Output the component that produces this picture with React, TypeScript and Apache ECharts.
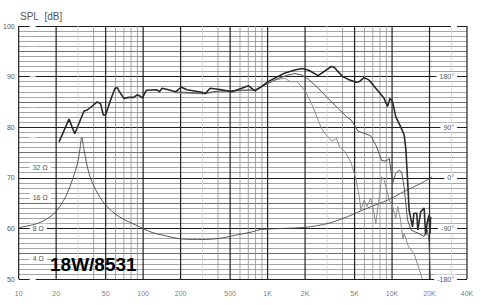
import React, { useEffect, useRef } from 'react';
import * as echarts from 'echarts';

// ---- tick labels ----
const X_TICKS = [10, 20, 50, 100, 200, 500, 1000, 2000, 5000, 10000, 20000, 40000];
const X_TICK_LABELS = ['10', '20', '50', '100', '200', '500', '1K', '2K', '5K', '10K', '20K', '40K'];
const IMPEDANCE_TICKS = [4, 8, 16, 32];
const PHASE_MAX_LABEL = 180;
const MODEL_NAME = '18W/8531';
const Y_TITLE = 'SPL\u00a0\u00a0[dB]';

// ---- series: [frequency Hz, SPL dB] ----
const SPL_ON_AXIS: [number, number][] = [
  [21.1, 77.1], [25.4, 81.6], [28.2, 78.7], [33.5, 83.2], [35.6, 83.4], [42.8, 85.0],
  [45.5, 84.6], [47.9, 82.4], [49.9, 82.4], [54.8, 85.4], [59.4, 87.7], [62, 87.8],
  [64.6, 87.0], [70, 85.7], [76.9, 85.9], [84.2, 85.9], [89.4, 86.4], [95, 86.1],
  [98.5, 85.8], [106, 87.3], [129, 87.4], [135, 87.0], [142, 87.7], [160, 87.4],
  [181, 87.0], [203, 87.9], [225, 87.4], [297, 86.9], [315, 86.6], [345, 87.7],
  [428, 87.4], [516, 87.0], [620, 87.7], [700, 88.2], [790, 87.2], [890, 88.0],
  [1010, 89.0], [1140, 89.7], [1380, 90.7], [1660, 91.3], [1880, 91.6], [2120, 91.3],
  [2550, 90.2], [3250, 92.0], [3440, 91.8], [4010, 90.0], [4400, 89.5], [5140, 88.9],
  [5450, 89.0], [5970, 89.8], [6550, 89.3], [7400, 87.7], [8630, 85.7], [9190, 84.1],
  [9630, 85.7], [10100, 85.0], [10700, 82.1], [11700, 80.1], [12500, 78.5], [12900, 75.7],
  [13300, 70.0], [13700, 63.6], [14600, 60.3], [15000, 63.0], [15800, 63.0], [16100, 59.7],
  [17000, 63.3], [18100, 64.0], [18600, 58.7], [19200, 61.3], [19800, 62.6], [20200, 59.0],
  [20400, 62.3],
];

const SPL_30DEG: [number, number][] = [
  [180, 87.0], [300, 86.7], [420, 87.2], [600, 87.3], [800, 87.4], [1000, 88.6],
  [1200, 89.6], [1460, 90.3], [1660, 90.6], [1880, 90.3], [2120, 89.5], [2550, 87.7],
  [3060, 85.7], [3690, 83.7], [4300, 82.1], [4700, 81.4], [5330, 79.2], [5970, 78.8],
  [6730, 78.3], [7400, 76.5], [8260, 73.4], [8940, 73.3], [9500, 73.8], [10100, 68.9],
  [10700, 70.9], [11400, 71.5], [11900, 71.2], [12500, 68.2], [13300, 61.7], [14200, 59.7],
  [15000, 59.4], [16400, 59.0], [18100, 58.4], [19200, 59.7], [19800, 57.5], [20300, 50.0],
];

const SPL_60DEG: [number, number][] = [
  [180, 86.8], [300, 86.6], [420, 87.0], [600, 87.2], [800, 87.3], [1000, 88.6],
  [1140, 89.3], [1380, 89.7], [1510, 89.0], [1720, 89.0], [1880, 88.0], [2050, 86.7],
  [2250, 84.7], [2550, 81.4], [2710, 79.8], [2880, 78.8], [3060, 78.1], [3250, 77.3],
  [3440, 77.5], [3570, 77.8], [3790, 76.1], [4170, 75.2], [4700, 72.9], [5140, 69.6],
  [5450, 66.3], [5620, 63.6], [5970, 65.6], [6270, 64.3], [6730, 66.0], [7170, 63.0],
  [7400, 61.0], [7900, 66.3], [8260, 70.2], [8630, 69.6], [9500, 65.6], [10100, 64.3],
  [10700, 62.0], [11100, 64.3], [11700, 61.7], [12200, 58.0], [12500, 59.0], [13500, 56.5],
  [15000, 55.0], [16500, 52.0], [17500, 50.0],
];

// impedance [frequency Hz, ohm]
const IMPEDANCE: [number, number][] = [
  [10.1, 8.1], [13.8, 8.8], [16.5, 9.7], [19.9, 11.6], [23.9, 16.4], [27.0, 24.0],
  [29.7, 35.1], [31.0, 47.3], [32.1, 63.0], [33.5, 47.3], [36.7, 27.9], [41.6, 19.1],
  [49.9, 13.5], [63.9, 10.4], [86.7, 8.6], [118, 7.24], [142, 6.84], [205, 6.24],
  [300, 6.17], [404, 6.31], [516, 6.68], [620, 7.0], [748, 7.33], [890, 7.76],
  [1990, 8.13], [3060, 8.9], [4400, 10.4], [6340, 12.6], [9190, 15.1], [12500, 18.4],
  [17000, 22.1], [21000, 25.7],
];

const FONT = 'Liberation Sans, Arial, sans-serif';

function buildVerticalGrid() {
  const out: any[] = [];
  for (const dec of [10, 100, 1000, 10000]) {
    for (let m = 1; m <= 9; m++) {
      const f = m * dec;
      if (f > 40000) continue;
      const major = m === 1 || m === 2 || m === 5 || f === 40000;
      const light = m === 3;
      out.push({
        type: 'line',
        data: [[f, 50], [f, 100]],
        symbol: 'none',
        silent: true,
        z: 1,
        xAxisIndex: 0,
        yAxisIndex: 0,
        lineStyle: {
          color: major ? '#222' : light ? '#cfcfcf' : '#8e8e8e',
          width: major ? 1.2 : 0.8,
        },
      });
    }
  }
  return out;
}

export default function App() {
  const ref = useRef<HTMLDivElement>(null);
  useEffect(() => {
    document.body.style.margin = '0';
    const chart = echarts.init(ref.current!, undefined, { renderer: 'svg' });
    const hLineColors = Array.from({ length: 10 }, (_, i) =>
      i === 0 ? '#1e1e1e' : i === 5 ? '#6e6e6e' : '#a4a4a4'
    );
    const option: any = {
      animation: false,
      backgroundColor: '#fff',
      title: {
        text: Y_TITLE,
        left: 15,
        top: 6,
        textStyle: { fontSize: 10, fontWeight: 'normal', color: '#555', fontFamily: FONT },
      },
      grid: { left: 16, right: 20, top: 26, bottom: 26, containLabel: false },
      xAxis: {
        type: 'log',
        logBase: 10,
        min: 10,
        max: 40000,
        axisLine: { show: false },
        axisTick: { show: false },
        axisLabel: { show: false },
        splitLine: { show: false },
      },
      yAxis: [
        {
          type: 'value',
          min: 50,
          max: 100,
          interval: 1,
          axisLine: { show: false },
          axisTick: { show: false },
          axisLabel: {
            fontSize: 7,
            color: '#555',
            fontFamily: FONT,
            margin: 4,
            formatter: (v: number) => (v % 10 === 0 ? String(v) : ''),
          },
          splitLine: { show: true, lineStyle: { color: hLineColors, width: 1 } },
        },
        {
          type: 'value',
          position: 'right',
          min: -180,
          max: 270,
          interval: 90,
          z: 2,
          axisLine: { show: false },
          axisTick: { show: false },
          splitLine: { show: false },
          axisLabel: {
            inside: true,
            margin: 10,
            fontSize: 7,
            color: '#555',
            fontFamily: FONT,
            backgroundColor: '#fff',
            padding: [1, 3],
            formatter: (v: number) => (v > PHASE_MAX_LABEL ? '' : `${v}°`),
          },
        },
        {
          type: 'log',
          logBase: 2,
          position: 'left',
          min: Math.pow(10, (50 - 42) / 20),
          max: Math.pow(10, (100 - 42) / 20),
          splitNumber: 8,
          z: 2,
          axisLine: { show: false },
          axisTick: { show: false },
          splitLine: { show: false },
          axisLabel: {
            inside: true,
            margin: 11,
            fontSize: 7,
            color: '#555',
            fontFamily: FONT,
            backgroundColor: '#fff',
            padding: [1, 3],
            formatter: (v: number) => {
              const r = Math.round(v);
              return IMPEDANCE_TICKS.includes(r) && Math.abs(v - r) < 0.05 ? `${r} Ω` : '';
            },
          },
        },
      ],
      graphic: [
        {
          type: 'text',
          left: 50,
          top: 255,
          z: 10,
          style: {
            text: MODEL_NAME,
            fontSize: 19,
            fontWeight: 'bold',
            fontFamily: FONT,
            fill: '#000',
          },
        },
      ],
      series: [
        ...buildVerticalGrid(),
        {
          name: 'impedance',
          type: 'line',
          yAxisIndex: 2,
          data: IMPEDANCE,
          symbol: 'none',
          smooth: 0.3,
          z: 3,
          lineStyle: { color: '#4a4a4a', width: 0.9 },
        },
        {
          name: '60deg',
          type: 'line',
          data: SPL_60DEG,
          symbol: 'none',
          z: 3,
          lineStyle: { color: '#8c8c8c', width: 1 },
        },
        {
          name: '30deg',
          type: 'line',
          data: SPL_30DEG,
          symbol: 'none',
          z: 4,
          lineStyle: { color: '#555', width: 1 },
        },
        {
          name: 'on-axis',
          type: 'line',
          data: SPL_ON_AXIS,
          symbol: 'none',
          z: 5,
          lineStyle: { color: '#2a2a2a', width: 1.6 },
        },
        {
          name: 'xlabels',
          type: 'scatter',
          data: X_TICKS.map((f) => [f, 50]),
          symbolSize: 1,
          silent: true,
          itemStyle: { color: 'rgba(0,0,0,0)' },
          label: {
            show: true,
            position: 'bottom',
            distance: 10,
            fontSize: 7,
            color: '#555',
            fontFamily: FONT,
            formatter: (p: any) => X_TICK_LABELS[p.dataIndex],
          },
        },
      ],
    };
    chart.setOption(option);
    return () => chart.dispose();
  }, []);
  return <div ref={ref} style={{ width: 487, height: 305 }} />;
}
